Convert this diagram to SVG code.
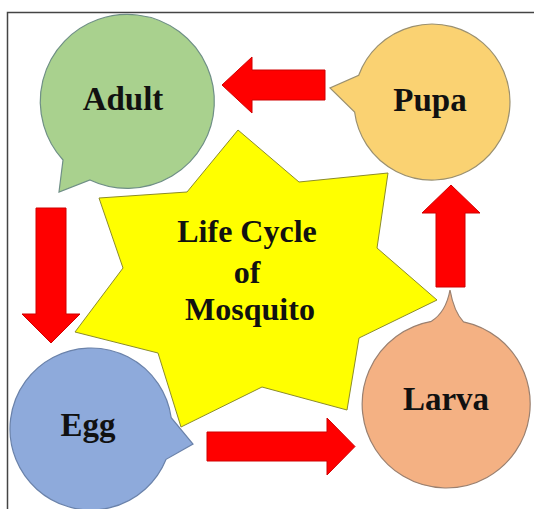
<svg xmlns="http://www.w3.org/2000/svg" width="534" height="509" viewBox="0 0 534 509">
<style>
.lbl{font-family:"Liberation Serif","DejaVu Serif",serif;font-weight:bold;font-size:33px;fill:#111;text-anchor:middle}
.title{font-family:"Liberation Serif","DejaVu Serif",serif;font-weight:bold;font-size:32px;fill:#111;text-anchor:middle}
.arrow{fill:#ff0000;stroke:#d00000;stroke-width:1}
</style>
<rect width="534" height="509" fill="#ffffff"/>
<path d="M7.5,509 V12.5 H534" fill="none" stroke="#444" stroke-width="1.5"/>
<g id="star">
<polygon points="238,130 299,182 388,173 377,248 437,300 359,338 347,410 262,387 181,427 158,353 75,332 123,268 99,198 187,192" fill="#ffff00" stroke="#8c8c2a" stroke-width="1"/>
<text class="title" x="247" y="242">Life Cycle</text>
<text class="title" x="247" y="283">of</text>
<text class="title" x="250" y="320">Mosquito</text>
</g>
<g id="adult">
<path d="M90,180 A87,87 0 1 0 63,160 L59,192 Z" fill="#a9d18e" stroke="#6f8f86" stroke-width="1.2"/>
<text class="lbl" x="123" y="110">Adult</text>
</g>
<g id="pupa">
<path d="M358.7,75.3 A78,78 0 1 1 354.6,112 L330,88 Z" fill="#fad272" stroke="#9a9070" stroke-width="1.2"/>
<text class="lbl" x="430" y="111">Pupa</text>
</g>
<g id="egg">
<path d="M166.1,459.3 A81,81 0 1 1 171.2,417.7 L193,444 Z" fill="#8eaadb" stroke="#6a82aa" stroke-width="1.2"/>
<text class="lbl" x="88" y="436">Egg</text>
</g>
<g id="larva">
<path d="M463.5,321.8 A84,84 0 1 1 431.4,321.3 Q446,312 450,290 Q454,312 463.5,321.8 Z" fill="#f4b183" stroke="#9a8070" stroke-width="1.2"/>
<text class="lbl" x="446" y="410">Larva</text>
</g>
<g id="connectors">
<path class="arrow" d="M325,70 H252 V57 L222,85 L252,113 V100 H325 Z"/>
<path class="arrow" d="M36,208 H66 V314 H80 L51,343 L22,314 H36 Z"/>
<path class="arrow" d="M207,432 H327 V418 L355,446.5 L327,475 V461 H207 Z"/>
<path class="arrow" d="M436,287 V213 H422 L451,185 L480,213 H465 V287 Z"/>
</g>
</svg>
